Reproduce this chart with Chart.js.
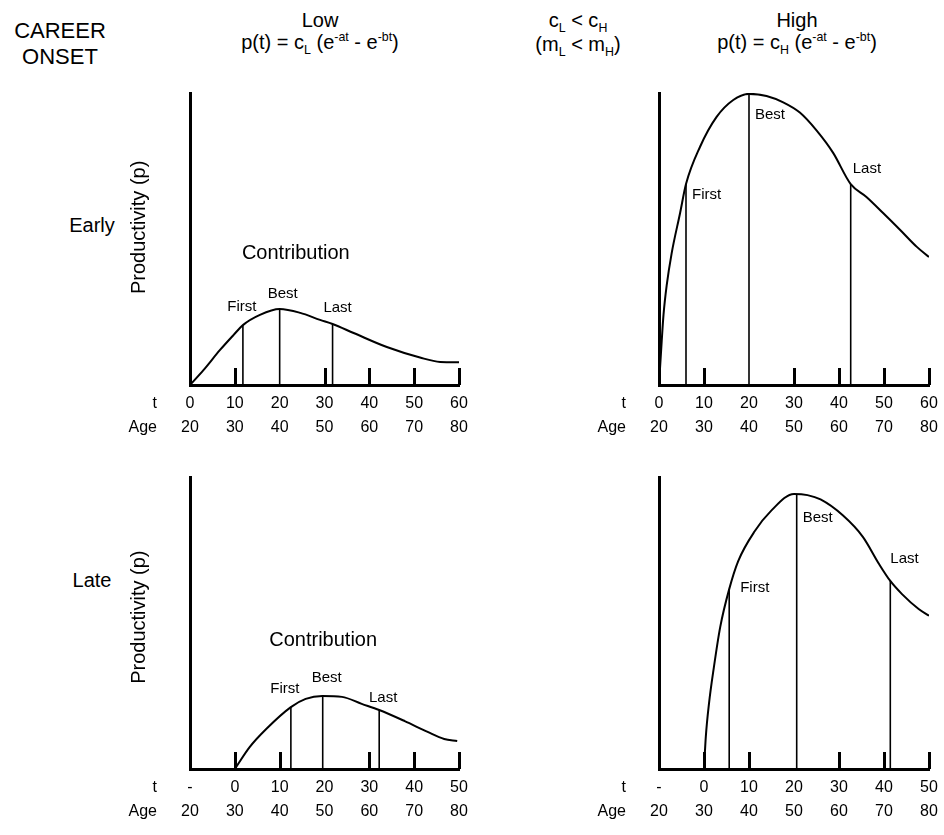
<!DOCTYPE html>
<html>
<head>
<meta charset="utf-8">
<script src="https://cdn.jsdelivr.net/npm/chart.js@4.4.0/dist/chart.umd.min.js"></script>
<style>
  body { margin: 0; background: #fff; }
  #page { position: relative; width: 944px; height: 835px; overflow: hidden;
          font-family: "Liberation Sans", Arial, Helvetica, sans-serif; color: #000; }
  .txt { position: absolute; width: 240px; text-align: center; white-space: nowrap;
         font-size: 20px; line-height: 24px; }
  .txt sub, .txt sup { font-size: 0.62em; line-height: 0; }
  canvas { position: absolute; }
</style>
</head>
<body>
<div id="page">
  <div class="txt" style="left:-60px; top:18px; font-size:22px; line-height:26px;">CAREER</div>
  <div class="txt" style="left:-60px; top:44px; font-size:22px; line-height:26px;">ONSET</div>
  <div class="txt" style="left:200px; top:8px;">Low</div>
  <div class="txt" style="left:200px; top:30px;">p(t) = c<sub>L</sub> (e<sup>-at</sup> - e<sup>-bt</sup>)</div>
  <div class="txt" style="left:458px; top:8px;">c<sub>L</sub> &lt; c<sub>H</sub></div>
  <div class="txt" style="left:458px; top:32px;">(m<sub>L</sub> &lt; m<sub>H</sub>)</div>
  <div class="txt" style="left:677px; top:8px;">High</div>
  <div class="txt" style="left:677px; top:30px;">p(t) = c<sub>H</sub> (e<sup>-at</sup> - e<sup>-bt</sup>)</div>
  <div class="txt" style="left:-28px; top:213px;">Early</div>
  <div class="txt" style="left:-28px; top:568px;">Late</div>

  <canvas id="earlyLow" width="370" height="370" style="left:110px; top:80px;"></canvas>
  <canvas id="earlyHigh" width="370" height="370" style="left:579px; top:80px;"></canvas>
  <canvas id="lateLow" width="370" height="370" style="left:110px; top:464px;"></canvas>
  <canvas id="lateHigh" width="370" height="370" style="left:579px; top:464px;"></canvas>
</div>

<script>
// x axis is age; t = age - onset
var tickAges = [20, 30, 40, 50, 60, 70, 80];
var tLabelsEarly = ['0', '10', '20', '30', '40', '50', '60'];
var tLabelsLate = ['-', '0', '10', '20', '30', '40', '50'];
var ageLabels = ['20', '30', '40', '50', '60', '70', '80'];

// productivity curves (t, p)
var earlyLowT = [0, 3, 6.7, 9.7, 11.8, 15.6, 20, 24.6, 29, 31.8, 36.5, 43.9, 51.3, 55.8, 60];
var earlyLowP = [0, 5.1, 12, 17.1, 20.5, 24, 26, 24.7, 22.3, 20.9, 17.8, 13, 9.4, 7.9, 7.8];

var earlyHighT = [0, 0.6, 1, 1.7, 2.8, 4.7, 6, 9.1, 12.8, 16.5, 20, 23.9, 27.6, 31.3, 35, 38.7, 42.6, 46.1, 49.8, 53.6, 57.3, 60];
var earlyHighP = [0, 15, 24, 34, 45, 59, 68.8, 81.5, 91.8, 97.6, 99.7, 99, 96.8, 93.3, 87.2, 79.5, 68.8, 64.4, 58.9, 53.1, 47.3, 43.8];

var lateLowT = [0, 3.3, 7, 12.5, 15.8, 19.5, 23.9, 28.3, 32.2, 37.9, 43, 46.7, 49.6];
var lateLowP = [0, 7.5, 13.7, 21.2, 24, 25, 24.7, 22.3, 20.2, 16.4, 12.7, 10.3, 9.6];

var lateHighT = [0, 0.4, 1.1, 2.2, 3.6, 5.6, 7.6, 11.3, 14.9, 20, 23, 25.9, 30.9, 35.3, 38.9, 41.4, 44, 47.7, 50];
var lateHighP = [0, 11, 22.3, 34.9, 48.6, 61.6, 71.2, 81.5, 88.4, 94.2, 93.8, 92.3, 86.8, 79.5, 70.2, 64.4, 59.9, 54.8, 52.5];

// First / Best / Last contributions
var markerNames = ['First', 'Best', 'Last'];
var earlyLowMarkT = [11.8, 20, 31.8];
var earlyLowMarkP = [20.5, 26, 20.9];
var earlyHighMarkT = [6, 20, 42.6];
var earlyHighMarkP = [68.8, 99.7, 68.8];
var lateLowMarkT = [12.5, 19.6, 32.2];
var lateLowMarkP = [21.2, 25, 20.2];
var lateHighMarkT = [5.6, 20.6, 41.4];
var lateHighMarkP = [61.6, 94.2, 64.4];

var FONT = '"Liberation Sans", Arial, Helvetica, sans-serif';

// draws the small upward ticks, the t / Age row names and the text inside a panel
var panelDeco = {
    id: 'panelDeco',
    afterDraw: function (chart, args, opts) {
        var ctx = chart.ctx;
        var xs = chart.scales.x;
        var ys = chart.scales.y;
        var area = chart.chartArea;
        ctx.save();
        ctx.fillStyle = '#000';
        xs.ticks.forEach(function (tk) {
            if (tk.value <= xs.min) return;
            if (Math.abs(tk.value - (opts.onset + opts.markT[1])) < 1.5) return;
            var px = xs.getPixelForValue(tk.value);
            ctx.fillRect(Math.round(px) - 1, area.bottom - 17, 3, 17);
        });

        ctx.font = '16px ' + FONT;
        ctx.textAlign = 'right';
        ctx.textBaseline = 'middle';
        ctx.fillText('t', area.left - 33, area.bottom + 19);
        ctx.fillText('Age', area.left - 33, area.bottom + 43);

        ctx.font = '15px ' + FONT;
        for (var i = 0; i < markerNames.length; i++) {
            var lab = opts.labels[i];
            var lx = xs.getPixelForValue(opts.onset + opts.markT[i]);
            var ly = ys.getPixelForValue(opts.markP[i]);
            ctx.textAlign = lab.align;
            ctx.fillText(markerNames[i], lx + lab.dx, ly + lab.dy);
        }

        if (opts.note) {
            ctx.font = '20px ' + FONT;
            ctx.textAlign = 'center';
            ctx.fillText('Contribution', xs.getPixelForValue(opts.note.x), ys.getPixelForValue(opts.note.y));
        }

        // y title, a bit above the middle of the axis like the original
        if (opts.titleY !== undefined) {
            ctx.translate(area.left - 51, ys.getPixelForValue(opts.titleY));
            ctx.rotate(-Math.PI / 2);
            ctx.font = '20px ' + FONT;
            ctx.textAlign = 'center';
            ctx.fillText('Productivity (p)', 0, 0);
        }
        ctx.restore();
    }
};

function toPoints(onset, ts, ps) {
    var pts = [];
    for (var i = 0; i < ts.length; i++) {
        pts.push({ x: onset + ts[i], y: ps[i] });
    }
    return pts;
}

function makePanel(id, cfg) {
    var datasets = [{
        data: toPoints(cfg.onset, cfg.curveT, cfg.curveP),
        borderColor: '#000',
        borderWidth: 2,
        pointRadius: 0,
        fill: false,
        cubicInterpolationMode: 'monotone'
    }];
    for (var i = 0; i < cfg.markT.length; i++) {
        var a = cfg.onset + cfg.markT[i];
        datasets.push({
            data: [{ x: a, y: 0 }, { x: a, y: cfg.markP[i] }],
            borderColor: '#000',
            borderWidth: 1.6,
            pointRadius: 0,
            fill: false
        });
    }

    return new Chart(document.getElementById(id), {
        type: 'line',
        data: { datasets: datasets },
        plugins: [panelDeco],
        options: {
            responsive: false,
            animation: false,
            devicePixelRatio: 1,
            layout: { padding: { top: 13, right: cfg.padRight, bottom: 5, left: 0 } },
            plugins: {
                legend: { display: false },
                tooltip: { enabled: false },
                panelDeco: {
                    onset: cfg.onset,
                    markT: cfg.markT,
                    markP: cfg.markP,
                    labels: cfg.labels,
                    note: cfg.note,
                    titleY: cfg.titleY
                }
            },
            scales: {
                x: {
                    type: 'linear',
                    min: 20,
                    max: 80,
                    afterBuildTicks: function (scale) {
                        scale.ticks = tickAges.map(function (v) { return { value: v }; });
                    },
                    afterFit: function (scale) { scale.height = 60; },
                    ticks: {
                        autoSkip: false,
                        maxRotation: 0,
                        padding: 7,
                        color: '#000',
                        font: { family: FONT, size: 16, lineHeight: 1.5 },
                        callback: function (value) {
                            var k = tickAges.indexOf(value);
                            return [cfg.tLabels[k], ageLabels[k]];
                        }
                    },
                    grid: { display: false, drawTicks: false },
                    border: { display: true, color: '#000', width: 3 }
                },
                y: {
                    min: 0,
                    max: 100,
                    afterFit: function (scale) { scale.width = 80; },
                    ticks: { display: false },
                    grid: { display: false, drawTicks: false },
                    border: { display: true, color: '#000', width: 3 }
                }
            }
        }
    });
}

makePanel('earlyLow', {
    onset: 20, curveT: earlyLowT, curveP: earlyLowP,
    markT: earlyLowMarkT, markP: earlyLowMarkP, tLabels: tLabelsEarly,
    padRight: 21, titleY: 54,
    labels: [{ dx: -1, dy: -18, align: 'center' }, { dx: 3, dy: -15, align: 'center' }, { dx: 5, dy: -16, align: 'center' }],
    note: { x: 43.6, y: 45 }
});

makePanel('earlyHigh', {
    onset: 20, curveT: earlyHighT, curveP: earlyHighP,
    markT: earlyHighMarkT, markP: earlyHighMarkP, tLabels: tLabelsEarly,
    padRight: 20,
    labels: [{ dx: 6, dy: 11, align: 'left' }, { dx: 6, dy: 21, align: 'left' }, { dx: 2, dy: -15, align: 'left' }]
});

makePanel('lateLow', {
    onset: 30, curveT: lateLowT, curveP: lateLowP,
    markT: lateLowMarkT, markP: lateLowMarkP, tLabels: tLabelsLate,
    padRight: 21, titleY: 52,
    labels: [{ dx: -6, dy: -18, align: 'center' }, { dx: 4, dy: -18, align: 'center' }, { dx: 4, dy: -12, align: 'center' }],
    note: { x: 49.7, y: 44 }
});

makePanel('lateHigh', {
    onset: 30, curveT: lateHighT, curveP: lateHighP,
    markT: lateHighMarkT, markP: lateHighMarkP, tLabels: tLabelsLate,
    padRight: 20,
    labels: [{ dx: 11, dy: -1, align: 'left' }, { dx: 6, dy: 24, align: 'left' }, { dx: 0, dy: -22, align: 'left' }]
});
</script>
</body>
</html>
